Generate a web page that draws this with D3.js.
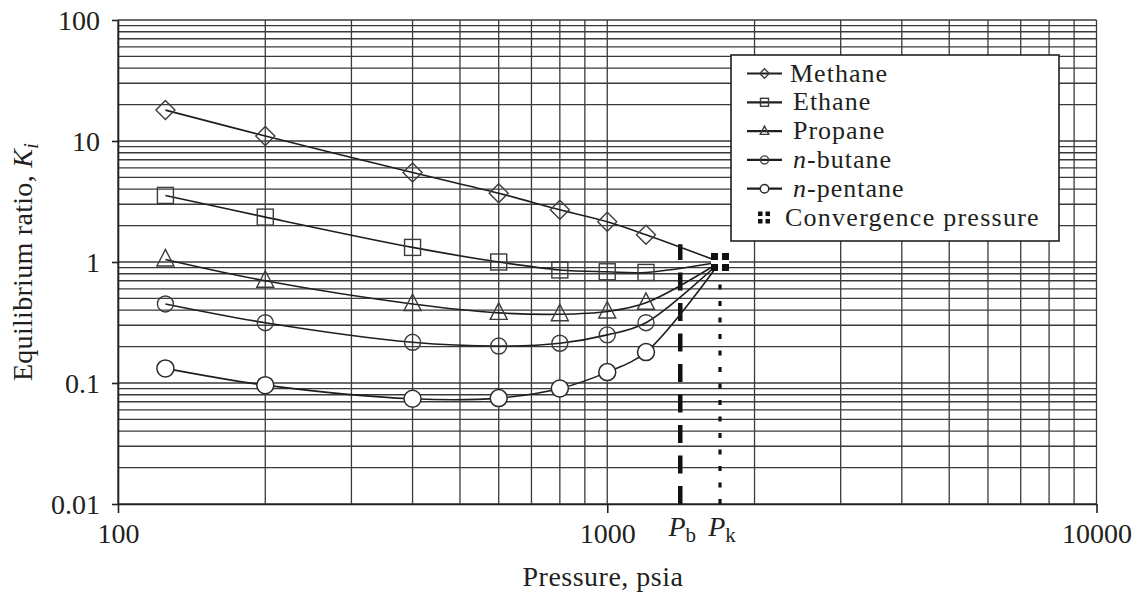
<!DOCTYPE html>
<html>
<head>
<meta charset="utf-8">
<script src="https://cdn.jsdelivr.net/npm/d3@7"></script>
<style>
  html, body { margin: 0; padding: 0; background: #fff; }
  svg { display: block; }
  text { font-family: "Liberation Serif", "Times New Roman", serif; fill: #231f20; }
</style>
</head>
<body>
<svg id="chart" width="1139" height="593"></svg>
<script>
// Pressure (psia) at which each equilibrium ratio was measured
const pressures = [125, 200, 400, 600, 800, 1000, 1200];

// Equilibrium ratios K_i for each component
const methane = [18, 11, 5.5, 3.7, 2.7, 2.15, 1.68];
const ethane  = [3.55, 2.35, 1.32, 1.0, 0.86, 0.83, 0.82];
const propane = [1.05, 0.70, 0.45, 0.38, 0.37, 0.39, 0.46];
const butane  = [0.45, 0.315, 0.217, 0.202, 0.213, 0.25, 0.315];
const pentane = [0.132, 0.096, 0.074, 0.075, 0.09, 0.123, 0.18];

// Bubble-point and convergence pressures (psia)
const bubblePressure = 1410;
const bubbleTopK = 1.4;
const convergencePressure = 1700;
const convergenceK = 1;

// Axis labels
const xTickValues = [100, 1000, 10000];
const xTickLabels = ["100", "1000", "10000"];
const yTickValues = [0.01, 0.1, 1, 10, 100];
const yTickLabels = ["0.01", "0.1", "1", "10", "100"];

const seriesNames = ["Methane", "Ethane", "Propane", "n-butane", "n-pentane"];
const seriesValues = [methane, ethane, propane, butane, pentane];
const seriesMarkers = ["diamond", "square", "triangle", "crossCircle", "openCircle"];

const svg = d3.select("#chart");
const ink = "#231f20";
const gridInk = "#3a3a3a";

const x = d3.scaleLog().domain([100, 10000]).range([118, 1096.5]);
const y = d3.scaleLog().domain([0.01, 100]).range([504, 20]);

// ---- log grid ----
function logGridValues(lo, hi) {
  const vals = [];
  for (let d = lo; d < hi; d *= 10) {
    for (let k = 1; k <= 9; k++) vals.push(+(d * k).toPrecision(6));
  }
  vals.push(hi);
  return vals;
}
const xGrid = logGridValues(100, 10000);
const yGrid = logGridValues(0.01, 100);

const grid = svg.append("g").attr("stroke", gridInk).attr("stroke-width", 1.3);
grid.selectAll("line.v").data(xGrid).join("line")
  .attr("class", "v")
  .attr("x1", d => x(d)).attr("x2", d => x(d))
  .attr("y1", y(100)).attr("y2", y(0.01));
grid.selectAll("line.h").data(yGrid).join("line")
  .attr("class", "h")
  .attr("x1", x(100)).attr("x2", x(10000))
  .attr("y1", d => y(d)).attr("y2", d => y(d));

// ---- axes (major ticks only) ----
const xAxis = d3.axisBottom(x).tickValues(xTickValues)
  .tickFormat((d, i) => xTickLabels[i]).tickSizeInner(9).tickSizeOuter(0).tickPadding(9);
const yAxis = d3.axisLeft(y).tickValues(yTickValues)
  .tickFormat((d, i) => yTickLabels[i]).tickSizeInner(6).tickSizeOuter(0).tickPadding(12);

const gx = svg.append("g").attr("transform", `translate(0,${y(0.01)})`).call(xAxis);
const gy = svg.append("g").attr("transform", `translate(${x(100)},0)`).call(yAxis);
[gx, gy].forEach(g => {
  g.select(".domain").attr("stroke", ink).attr("stroke-width", 1.6);
  g.selectAll(".tick line").attr("stroke", ink).attr("stroke-width", 1.6);
  g.selectAll(".tick text").attr("fill", ink)
    .style("font-family", "'Liberation Serif', serif").style("font-size", "28px");
});
gx.selectAll(".tick text").attr("dy", "0.74em");
gy.selectAll(".tick text").attr("dy", "0.34em");

// ---- bubble-point and convergence-pressure guide lines ----
svg.append("line")
  .attr("x1", x(bubblePressure)).attr("x2", x(bubblePressure))
  .attr("y1", y(0.01)).attr("y2", y(bubbleTopK))
  .attr("stroke", "#111").attr("stroke-width", 4.5)
  .attr("stroke-dasharray", "18,12.5");
svg.append("line")
  .attr("x1", x(convergencePressure)).attr("x2", x(convergencePressure))
  .attr("y1", y(0.01)).attr("y2", y(convergenceK) + 12)
  .attr("stroke", "#111").attr("stroke-width", 3.2)
  .attr("stroke-dasharray", "5,11.5");

// P_b / P_k labels on the pressure axis
function pLabel(px, sub) {
  const t = svg.append("text")
    .attr("x", px).attr("y", 536)
    .attr("text-anchor", "middle")
    .style("font-size", "28px");
  t.append("tspan").style("font-style", "italic").text("P");
  t.append("tspan").attr("dy", 6).style("font-size", "21px").text(sub);
}
pLabel(x(bubblePressure) + 2, "b");
pLabel(x(convergencePressure) + 2, "k");

// ---- curves ----
const line = d3.line()
  .x(d => x(d[0])).y(d => y(d[1]))
  .curve(d3.curveCatmullRom.alpha(0.5));

seriesValues.forEach(vals => {
  const pts = pressures.map((p, i) => [p, vals[i]]);
  pts.push([convergencePressure, convergenceK]);
  svg.append("path").datum(pts)
    .attr("d", line)
    .attr("fill", "none")
    .attr("stroke", "#1e1e1e")
    .attr("stroke-width", 1.6);
});

// ---- markers ----
function drawMarker(g, type, cx, cy, s) {
  const stroke = "#3c3c3c";
  if (type === "diamond") {
    const r = 9.5 * s;
    g.append("path")
      .attr("d", `M${cx},${cy - r}L${cx + r},${cy}L${cx},${cy + r}L${cx - r},${cy}Z`)
      .attr("fill", "none").attr("stroke", stroke).attr("stroke-width", 1.4);
  } else if (type === "square") {
    const h = 8 * s;
    g.append("rect").attr("x", cx - h).attr("y", cy - h)
      .attr("width", 2 * h).attr("height", 2 * h)
      .attr("fill", "none").attr("stroke", stroke).attr("stroke-width", 1.4);
  } else if (type === "triangle") {
    const w = 8.5 * s, up = 10 * s, dn = 6.5 * s;
    g.append("path")
      .attr("d", `M${cx},${cy - up}L${cx + w},${cy + dn}L${cx - w},${cy + dn}Z`)
      .attr("fill", "none").attr("stroke", stroke).attr("stroke-width", 1.4);
  } else if (type === "crossCircle") {
    g.append("circle").attr("cx", cx).attr("cy", cy).attr("r", 8 * s)
      .attr("fill", "none").attr("stroke", stroke).attr("stroke-width", 1.4);
  } else if (type === "openCircle") {
    g.append("circle").attr("cx", cx).attr("cy", cy).attr("r", 8.5 * s)
      .attr("fill", "#fff").attr("stroke", "#2a2a2a").attr("stroke-width", 1.5);
  }
}

const markers = svg.append("g");
seriesValues.forEach((vals, si) => {
  pressures.forEach((p, i) => {
    drawMarker(markers, seriesMarkers[si], x(p), y(vals[i]), 1);
  });
});

// convergence point: four small filled squares
function convergenceMarker(g, cx, cy, size, gap) {
  g.append("rect").attr("x", cx - size - gap / 2).attr("y", cy - size - gap / 2)
    .attr("width", 2 * size + gap).attr("height", 2 * size + gap).attr("fill", "#fff");
  [[-1, -1], [1, -1], [-1, 1], [1, 1]].forEach(([sx, sy]) => {
    g.append("rect")
      .attr("x", sx < 0 ? cx - size - gap / 2 : cx + gap / 2)
      .attr("y", sy < 0 ? cy - size - gap / 2 : cy + gap / 2)
      .attr("width", size).attr("height", size).attr("fill", "#111");
  });
}
convergenceMarker(svg.append("g"), x(convergencePressure), y(convergenceK), 7, 4);

// ---- legend ----
const legend = svg.append("g");
legend.append("rect")
  .attr("x", 731).attr("y", 55).attr("width", 328).attr("height", 186)
  .attr("fill", "#fff").attr("stroke", ink).attr("stroke-width", 1.6);

const legendBaseline0 = 81.5, legendStep = 28.8;
const legendFont = "26px", legendSpacing = "1px";
seriesNames.forEach((name, i) => {
  const base = legendBaseline0 + i * legendStep;
  const ly = base - 8;
  legend.append("line").attr("x1", 747).attr("x2", 782)
    .attr("y1", ly).attr("y2", ly).attr("stroke", "#1e1e1e").attr("stroke-width", 2.2);
  drawMarker(legend, seriesMarkers[i], 764.5, ly, 0.5);
  const t = legend.append("text").attr("x", i === 0 ? 790 : 793).attr("y", base)
    .style("font-size", legendFont).style("letter-spacing", legendSpacing);
  if (name.startsWith("n-")) {
    t.append("tspan").style("font-style", "italic").text("n");
    t.append("tspan").text(name.slice(1));
  } else {
    t.text(name);
  }
});
{
  const base = legendBaseline0 + 5 * legendStep;
  convergenceMarker(legend, 764, base - 8, 4.5, 3);
  legend.append("text").attr("x", 785).attr("y", base)
    .style("font-size", legendFont).style("letter-spacing", "1.25px")
    .text("Convergence pressure");
}

// ---- axis titles ----
svg.append("text")
  .attr("x", 603).attr("y", 586)
  .attr("text-anchor", "middle")
  .style("font-size", "28px").style("letter-spacing", "0.5px")
  .text("Pressure, psia");

const yt = svg.append("text")
  .attr("transform", "translate(32,262) rotate(-90)")
  .attr("text-anchor", "middle")
  .style("font-size", "28px").style("letter-spacing", "0.3px");
yt.append("tspan").text("Equilibrium ratio, ");
yt.append("tspan").style("font-style", "italic").text("K");
yt.append("tspan").style("font-style", "italic").style("font-size", "20px").attr("dy", 6).text("i");
</script>
</body>
</html>
